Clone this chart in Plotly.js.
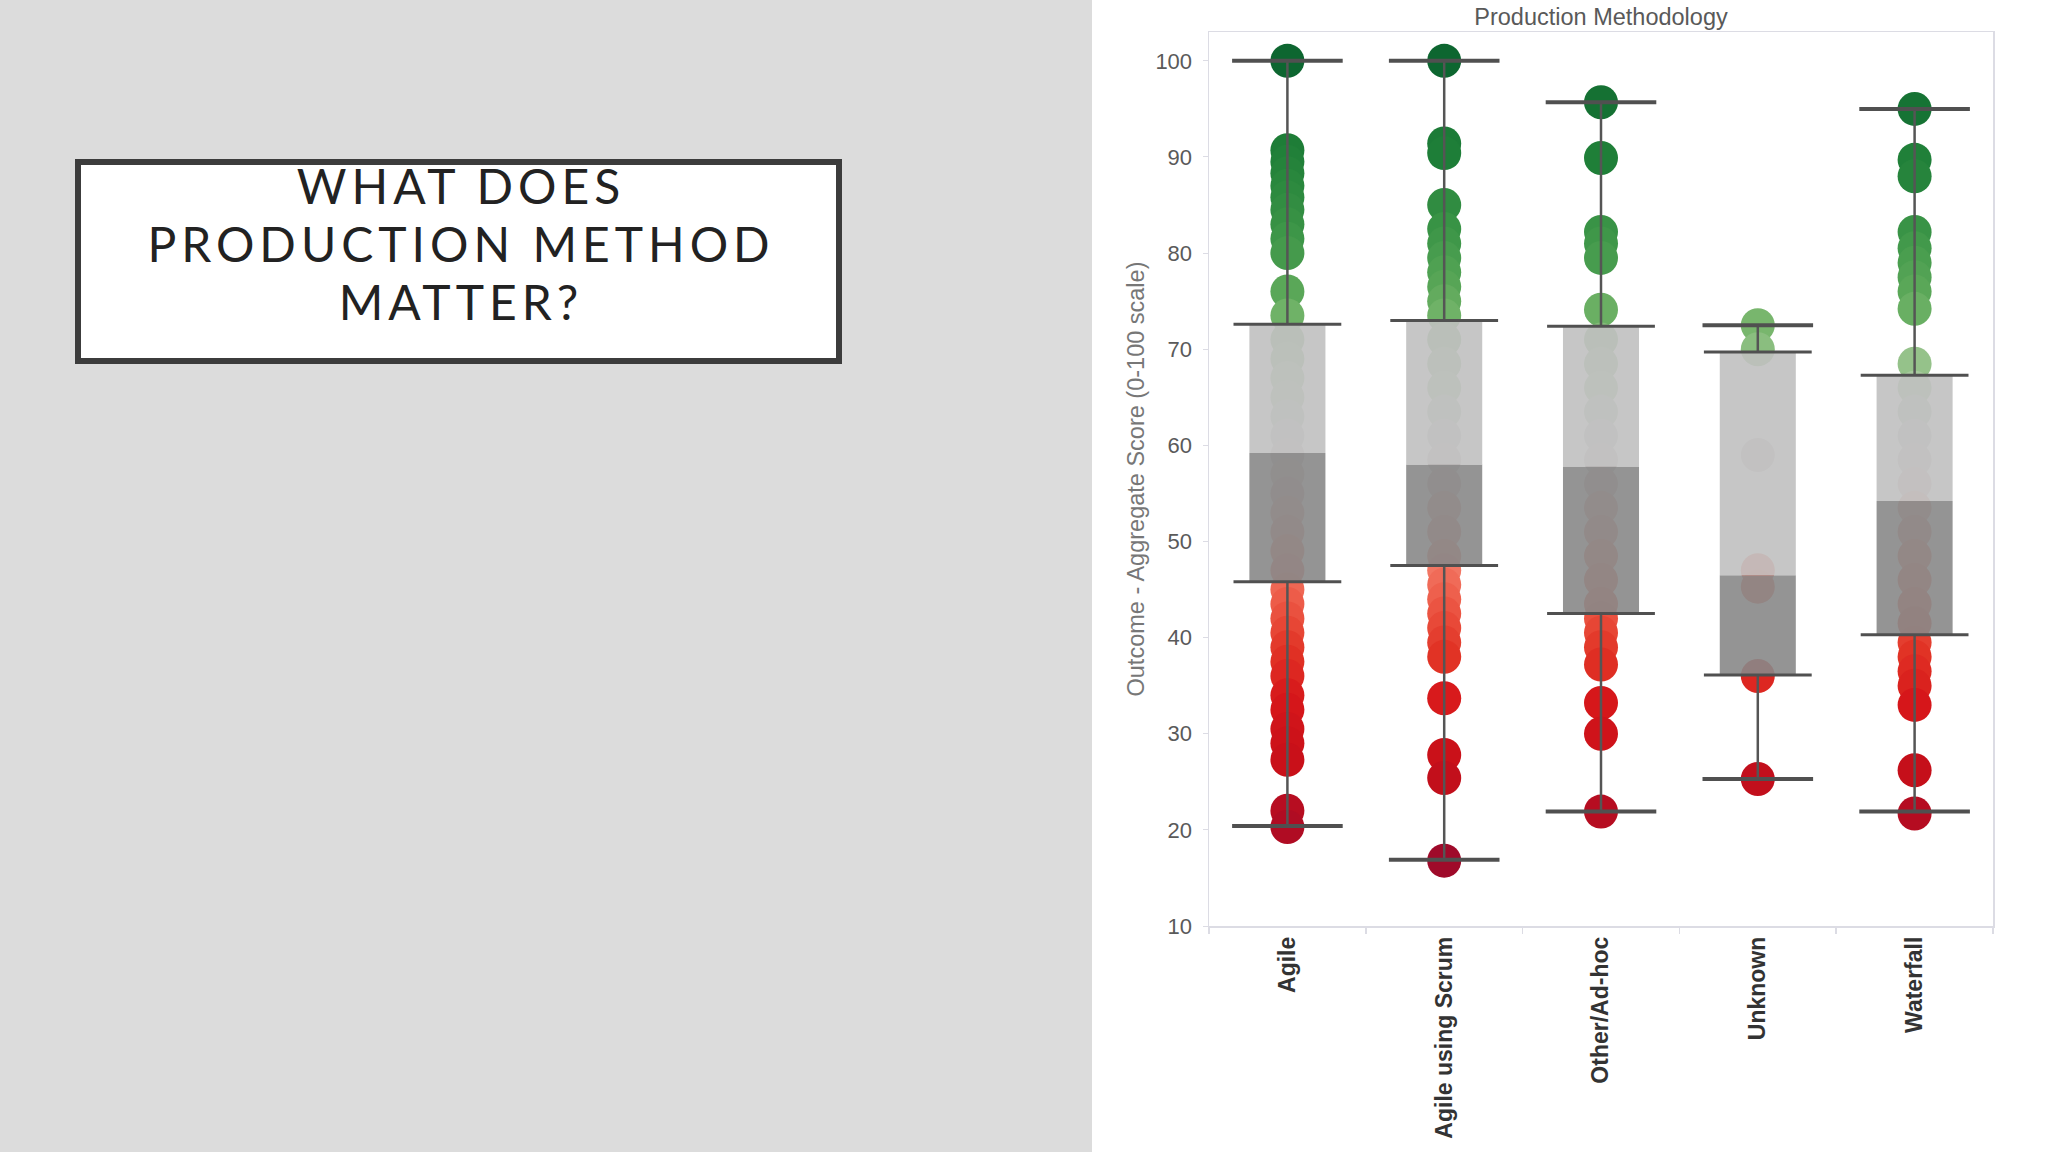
<!DOCTYPE html>
<html>
<head>
<meta charset="utf-8">
<script src="https://cdn.plot.ly/plotly-3.0.1.min.js"></script>
<style>
  html, body { margin: 0; padding: 0; width: 2048px; height: 1152px; overflow: hidden; background: #dcdcdc; }
  #panel { position: absolute; left: 0; top: 0; width: 1092px; height: 1152px; background: #dcdcdc; }
  #box { position: absolute; left: 75px; top: 159px; width: 767px; height: 205px; box-sizing: border-box;
         border: 6px solid #3c3c3c; background: #ffffff; }
  #heading { position: absolute; left: 75px; top: 157px; width: 767px; text-align: center;
         font-family: Lato, "Open Sans", sans-serif; font-weight: 400; font-size: 48px;
         line-height: 58px; letter-spacing: 5px; color: #222222; padding-left: 5px; box-sizing: border-box; }
  #chart { position: absolute; left: 1092px; top: 0; width: 956px; height: 1152px; background: #ffffff; }
</style>
</head>
<body>
<div id="panel"></div>
<div id="box"></div>
<div id="heading">WHAT DOES<br>PRODUCTION METHOD<br>MATTER?</div>
<div id="chart"></div>
<script>
// ---------------- data ----------------
const categories = ["Agile", "Agile using Scrum", "Other/Ad-hoc", "Unknown", "Waterfall"];

const agileScores = [100, 90.7, 89.5, 88.3, 87, 85.8, 84.5, 83, 81.5, 80, 76, 73.5,
  71, 69, 67, 65, 63, 61, 59, 57, 55, 53, 51, 49, 47,
  45, 43.5, 42, 40.5, 39, 37.5, 36, 34, 32.5, 30.5, 29, 27.3, 22, 20.3];
const scrumScores = [100, 91.4, 90.4, 85, 82.5, 81, 79.5, 78, 76.5, 75, 73.5,
  71, 68.5, 66, 63.5, 61, 58.5, 56, 53.5, 51, 48.5,
  47, 45.5, 44, 42.5, 41, 39.5, 38, 33.7, 27.8, 25.4, 16.8];
const otherScores = [95.7, 89.9, 82.2, 81, 79.5, 74.1,
  71, 68.5, 66, 63.5, 61, 58.5, 56, 53.5, 51, 48.5, 46, 43.5,
  42, 40.5, 39, 37.2, 33.2, 30, 21.9];
const unknownScores = [72.5, 70, 59, 47, 45.3, 36, 25.3];
const waterfallScores = [95, 89.7, 88, 82.2, 80.5, 79, 77.5, 76, 74.2, 68.5,
  66, 63.5, 61, 58.5, 56, 53.5, 51, 48.5, 46, 43.5, 41.5,
  39.5, 38, 36.5, 35, 33, 26.2, 21.7];

const lowerWhisker = [20.4, 16.9, 21.9, 25.3, 21.9];
const q1Values     = [45.8, 47.5, 42.5, 36.1, 40.3];
const medianValues = [59.2, 58.0, 57.8, 46.5, 54.2];
const q3Values     = [72.6, 73.0, 72.4, 69.7, 67.3];
const upperWhisker = [100, 100, 95.7, 72.5, 95.0];

const yTickValues = [10, 20, 30, 40, 50, 60, 70, 80, 90, 100];

// ---------------- colour scale (red - gray - green diverging) ----------------
const colorMin = 16, colorMax = 100;
const stopValues = [16, 21, 27, 33, 38, 43, 48, 56, 60, 66, 72, 76, 82, 90, 100];
const stopColors = ["#9b0a2b", "#b30c22", "#c81019", "#d6161a", "#e13325", "#ec5845", "#f47e6b",
  "#dcc4bf", "#cfcfcf", "#a7c99d", "#7cb870", "#5aa758", "#3a9446", "#1f7f38", "#0d6630"];
const colorscale = stopValues.map((v, i) => [(v - colorMin) / (colorMax - colorMin), stopColors[i]]);

// ---------------- traces ----------------
const allSeries = [agileScores, scrumScores, otherScores, unknownScores, waterfallScores];
const px = [], py = [];
allSeries.forEach((arr, i) => arr.forEach(v => { px.push(categories[i]); py.push(v); }));

const points = {
  type: "scatter", mode: "markers", x: px, y: py, xaxis: "x", yaxis: "y",
  marker: { size: 34, color: py, colorscale: colorscale, cmin: colorMin, cmax: colorMax,
            showscale: false, line: { width: 0 } },
  hoverinfo: "skip", showlegend: false
};

const lowerBox = {
  type: "bar", x: categories, base: q1Values,
  y: medianValues.map((m, i) => m - q1Values[i]),
  width: 0.485, xaxis: "x", yaxis: "y2",
  marker: { color: "rgba(136,136,136,0.9)", line: { width: 0 } },
  hoverinfo: "skip", showlegend: false
};
const upperBox = {
  type: "bar", x: categories, base: medianValues,
  y: q3Values.map((q, i) => q - medianValues[i]),
  width: 0.485, xaxis: "x", yaxis: "y2",
  marker: { color: "rgba(192,192,192,0.9)", line: { width: 0 } },
  hoverinfo: "skip", showlegend: false
};

const wx = [], wy = [];
categories.forEach((c, i) => {
  wx.push(c, c, null, c, c, null);
  wy.push(lowerWhisker[i], q1Values[i], null, q3Values[i], upperWhisker[i], null);
});
const whiskers = {
  type: "scatter", mode: "lines", x: wx, y: wy, xaxis: "x", yaxis: "y2",
  line: { color: "#555555", width: 2.5 }, connectgaps: false,
  hoverinfo: "skip", showlegend: false
};

const capX = [], capY = [];
categories.forEach((c, i) => { capX.push(c, c); capY.push(lowerWhisker[i], upperWhisker[i]); });
const caps = {
  type: "scatter", mode: "markers", x: capX, y: capY, xaxis: "x", yaxis: "y2",
  marker: { symbol: "line-ew", size: 79, color: "#505050", line: { color: "#505050", width: 4 } },
  hoverinfo: "skip", showlegend: false
};

const edgeX = [], edgeY = [];
categories.forEach((c, i) => { edgeX.push(c, c); edgeY.push(q1Values[i], q3Values[i]); });
const edges = {
  type: "scatter", mode: "markers", x: edgeX, y: edgeY, xaxis: "x", yaxis: "y2",
  marker: { symbol: "line-ew", size: 77, color: "#505050", line: { color: "#505050", width: 3 } },
  hoverinfo: "skip", showlegend: false
};

const frameColor = "#dcdce4";
const yRange = [10, 103];

const layout = {
  width: 956, height: 1152,
  paper_bgcolor: "#ffffff", plot_bgcolor: "#ffffff",
  margin: { l: 117, r: 55, t: 32, b: 226 },
  barmode: "overlay",
  showlegend: false,
  font: { family: "Liberation Sans, Arial, sans-serif", color: "#555555" },
  title: { text: "Production Methodology", x: 0.5, xref: "paper", xanchor: "center",
           y: 1 - 17 / 1152, yref: "container", yanchor: "middle",
           font: { size: 23.5, color: "#595959", family: "Liberation Sans, Arial, sans-serif" } },
  xaxis: {
    type: "category", categoryorder: "array", categoryarray: categories,
    range: [-0.5, 4.5],
    showline: true, linecolor: frameColor, linewidth: 1.5, mirror: true,
    showgrid: false, zeroline: false,
    ticks: "outside", tickson: "boundaries", ticklen: 6, tickcolor: frameColor, tickwidth: 1.5,
    tickangle: -90, ticklabelstandoff: 0,
    tickfont: { size: 23, color: "#333333", family: "Liberation Sans, Arial, sans-serif", weight: "bold" },
    fixedrange: true
  },
  yaxis: {
    range: yRange, tickvals: yTickValues, ticktext: yTickValues.map(String),
    showline: true, linecolor: frameColor, linewidth: 1.5, mirror: true,
    showgrid: false, zeroline: false,
    ticks: "outside", ticklen: 5, tickcolor: frameColor, tickwidth: 1,
    ticklabelstandoff: 6,
    tickfont: { size: 22, color: "#5a5a5a" },
    title: { text: "Outcome - Aggregate Score (0-100 scale)", standoff: 4,
             font: { size: 23.5, color: "#777777" } },
    fixedrange: true
  },
  yaxis2: {
    range: yRange, overlaying: "y", side: "left", showline: false, showgrid: false,
    zeroline: false, showticklabels: false, ticks: "", fixedrange: true
  }
};

Plotly.newPlot("chart", [points, lowerBox, upperBox, whiskers, edges, caps], layout,
  { staticPlot: true, displayModeBar: false });
</script>
</body>
</html>
